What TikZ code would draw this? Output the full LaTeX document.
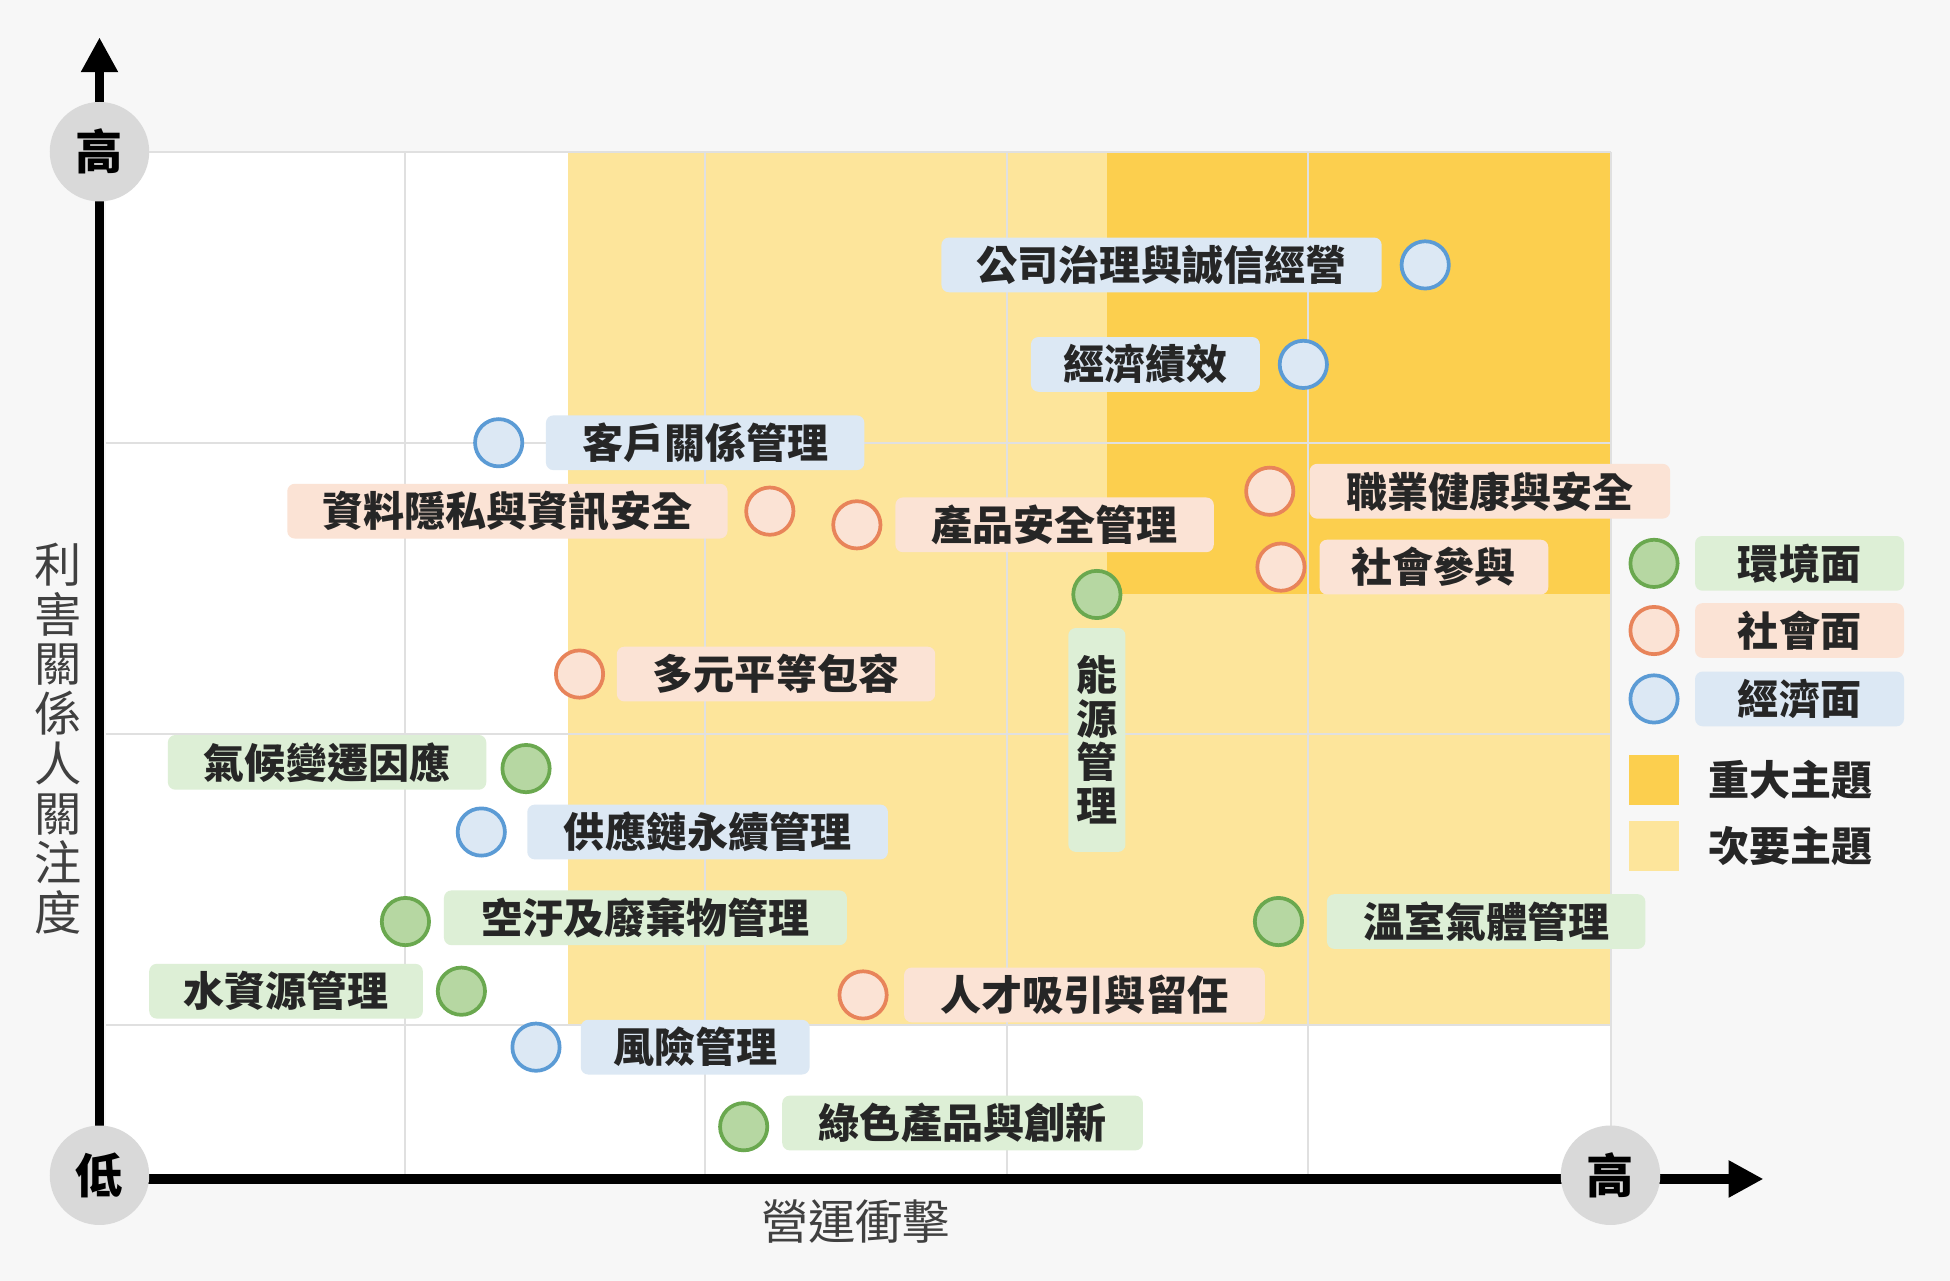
\documentclass[tikz,border=0pt]{standalone}
\usepackage{fontspec}
\setmainfont{Noto Sans CJK TC}
\usetikzlibrary{arrows.meta}
\definecolor{bgc}{HTML}{F7F7F7}
\definecolor{lyel}{HTML}{FDE59B}
\definecolor{oyel}{HTML}{FCCF4E}
\definecolor{bfill}{HTML}{DCE8F4}
\definecolor{bline}{HTML}{5B9BD5}
\definecolor{ofill}{HTML}{FBE3D5}
\definecolor{oline}{HTML}{E8845A}
\definecolor{gfill}{HTML}{DDEFD6}
\definecolor{gdot}{HTML}{B6D7A2}
\definecolor{gline}{HTML}{6AA84F}
\definecolor{axc}{HTML}{D9D9D9}
\begin{document}
\begin{tikzpicture}[x=0.5pt,y=-0.5pt,
  lab/.style={rounded corners=3pt,inner sep=0pt,minimum height=22pt,font=\fontsize{16.5}{16.5}\selectfont\bfseries,text=black!85},
  bl/.style={lab,fill=bfill}, ol/.style={lab,fill=ofill}, gl/.style={lab,fill=gfill},
  dot/.style={circle,line width=1.5pt,minimum size=19pt,inner sep=0pt},
  bd/.style={dot,draw=bline,fill=bfill}, od/.style={dot,draw=oline,fill=ofill}, gd/.style={dot,draw=gline,fill=gdot},
  axl/.style={circle,fill=axc,minimum size=40pt,inner sep=0pt,font=\fontsize{19}{19}\selectfont\bfseries}]
\useasboundingbox (0,0) rectangle (1568,1030);
\fill[bgc] (0,0) rectangle (1568,1030);
\fill[white] (85,122) rectangle (1295,945);
\fill[lyel] (457,122) rectangle (1295,824);
\fill[oyel] (890,122) rectangle (1295,478);
\foreach \x in {326,567,810,1052,1295} \draw[black!12,line width=0.8pt] (\x,122) -- (\x,945);
\foreach \y in {122,356,590,824} \draw[black!12,line width=0.8pt] (85,\y) -- (1295,\y);
% axes
\coordinate (o) at (80,948);
\coordinate (ytop) at (80,30);
\coordinate (xend) at (1418,948);
\draw[line width=4pt,-{Triangle[length=14pt,width=14pt]}] (80,960) -- (ytop);
\draw[line width=4pt,-{Triangle[length=14pt,width=14pt]}] (o) -- (xend);
\node[axl] (hy) at (80,122) {高};
\node[axl] (lo) at (80,945) {低};
\node[axl] (hx) at (1295,945) {高};
\node[font=\fontsize{19}{19}\selectfont,text=black!75] (xl) at (688,982) {營運衝擊};
\node[font=\fontsize{19}{20}\selectfont,text=black!75,align=center] (yl) at (47,594) {利\\害\\關\\係\\人\\關\\注\\度};
% items
\node[bl,minimum width=177pt] (t1) at (934,213) {公司治理與誠信經營};
\node[bd] (c1) at (1146,213) {};
\node[bl,minimum width=92pt] (t2) at (921,293) {經濟績效};
\node[bd] (c2) at (1048,293) {};
\node[bl,minimum width=128pt] (t3) at (567,356) {客戶關係管理};
\node[bd] (c3) at (401,356) {};
\node[ol,minimum width=177pt] (t4) at (408,411) {資料隱私與資訊安全};
\node[od] (c4) at (619,411) {};
\node[ol,minimum width=128pt] (t5) at (848,422) {產品安全管理};
\node[od] (c5) at (689,422) {};
\node[ol,minimum width=145pt] (t6) at (1198,395) {職業健康與安全};
\node[od] (c6) at (1021,395) {};
\node[ol,minimum width=92pt] (t7) at (1153,456) {社會參與};
\node[od] (c7) at (1030,456) {};
\node[gl,minimum width=23pt,minimum height=90pt,align=center,font=\fontsize{16.5}{17.5}\selectfont\bfseries] (t8) at (882,595) {能\\源\\管\\理};
\node[gd] (c8) at (882,478) {};
\node[ol,minimum width=128pt] (t9) at (624,542) {多元平等包容};
\node[od] (c9) at (466,542) {};
\node[gl,minimum width=128pt] (t10) at (263,613) {氣候變遷因應};
\node[gd] (c10) at (423,618) {};
\node[bl,minimum width=145pt] (t11) at (569,669) {供應鏈永續管理};
\node[bd] (c11) at (387,669) {};
\node[gl,minimum width=162pt] (t12) at (519,738) {空汙及廢棄物管理};
\node[gd] (c12) at (326,741) {};
\node[gl,minimum width=110pt] (t13) at (230,797) {水資源管理};
\node[gd] (c13) at (371,797) {};
\node[ol,minimum width=145pt] (t14) at (872,800) {人才吸引與留任};
\node[od] (c14) at (694,800) {};
\node[gl,minimum width=128pt] (t15) at (1195,741) {溫室氣體管理};
\node[gd] (c15) at (1028,741) {};
\node[bl,minimum width=92pt] (t16) at (559,842) {風險管理};
\node[bd] (c16) at (431,842) {};
\node[gl,minimum width=145pt] (t17) at (774,903) {綠色產品與創新};
\node[gd] (c17) at (598,906) {};
% legend
\node[gd] (lg1) at (1330,453) {};
\node[gl,minimum width=84pt] (lt1) at (1447,453) {環境面};
\node[od] (lg2) at (1330,507) {};
\node[ol,minimum width=84pt] (lt2) at (1447,507) {社會面};
\node[bd] (lg3) at (1330,562) {};
\node[bl,minimum width=84pt] (lt3) at (1447,562) {經濟面};
\node[fill=oyel,minimum size=20pt,inner sep=0pt] (sq1) at (1330,627) {};
\node[font=\fontsize{16.5}{16.5}\selectfont\bfseries,text=black!85] (st1) at (1440,627) {重大主題};
\node[fill=lyel,minimum size=20pt,inner sep=0pt] (sq2) at (1330,680) {};
\node[font=\fontsize{16.5}{16.5}\selectfont\bfseries,text=black!85] (st2) at (1440,680) {次要主題};
\end{tikzpicture}
\end{document}
